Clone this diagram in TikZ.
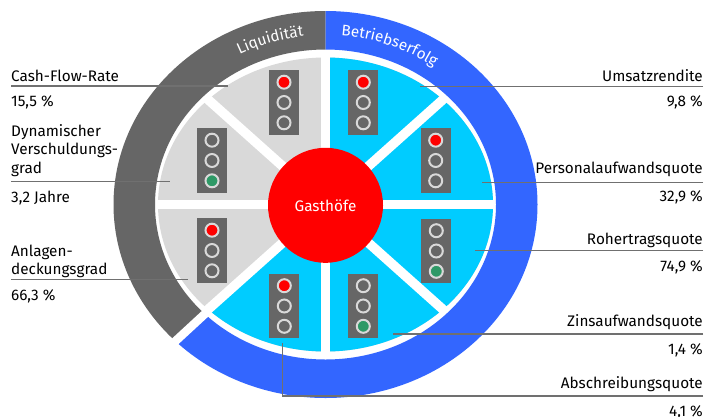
\documentclass[tikz,border=0pt]{standalone}
\usepackage{fontspec}
\setmainfont{Fira Sans}
\usetikzlibrary{positioning,decorations.text}
\definecolor{ringgray}{HTML}{666666}
\definecolor{ringblue}{HTML}{3366FF}
\definecolor{sectgray}{HTML}{D9D9D9}
\definecolor{sectcyan}{HTML}{00CCFF}
\definecolor{lampred}{HTML}{FF0000}
\definecolor{lampgreen}{HTML}{2E9966}
\definecolor{lampring}{HTML}{D9D9D9}
\definecolor{leadgray}{HTML}{707070}
\newcommand{\lblfont}{\fontsize{15.3}{18.6}\selectfont}
\tikzset{
lampbox/.style = {fill=ringgray, rectangle, minimum width=30pt, minimum height=64.5pt, inner sep=0pt},
lamp/.style = {draw=lampring, circle, line width=2pt, minimum size=13pt, inner sep=0pt},
hub/.style = {fill=red, circle, minimum size=115pt, inner sep=0pt, text=white, font=\lblfont},
divider/.style = {draw=white, line width=9.5pt},
leader/.style = {draw=leadgray, line width=1.3pt},
label/.style = {inner sep=0pt, align=left, font=\lblfont},
value/.style = {inner sep=0pt, font=\lblfont},
ringtext/.style = {decorate, decoration={text along path, text align=center, text color=white, text={|\lblfont|#1}}}
}

\begin{document}
\begin{tikzpicture}[x=1pt, y=1pt]
		\useasboundingbox (0,0) rectangle (706,-416);
		\fill[white] (0,0) rectangle (706,-416);
		\coordinate (c) at (325.5,-204.5);

		% outer ring and pie
		\begin{scope}[shift={(c)}]
			\fill[ringgray] (90:212 and 193.5) arc[start angle=90, end angle=225, x radius=212, y radius=193.5]
				-- (225:170.5 and 155) arc[start angle=225, end angle=90, x radius=170.5, y radius=155] -- cycle;
			\fill[ringblue] (90:212 and 193.5) arc[start angle=90, end angle=-135, x radius=212, y radius=193.5]
				-- (-135:170.5 and 155) arc[start angle=-135, end angle=90, x radius=170.5, y radius=155] -- cycle;
			\draw[draw=white, line width=8.5pt] (225:160 and 145) -- (225:225 and 205);

			\fill[sectgray] (0,0) ellipse[x radius=167.5, y radius=147];
			\fill[sectcyan] (0,0) -- (90:167.5 and 147) arc[start angle=90, end angle=-135, x radius=167.5, y radius=147] -- cycle;
			\foreach \a in {0,45,...,315}
				\draw[divider] (0,0) -- (\a:169 and 151);

			\path[ringtext=Liquidität] (137.4:186 and 169.5) arc[start angle=137.4, end angle=77.4, x radius=186, y radius=169.5];
			\path[ringtext=Betriebserfolg] (99.5:186 and 169.5) arc[start angle=99.5, end angle=39.5, x radius=186, y radius=169.5];
		\end{scope}

		\node [hub] (hub) at (325.5,-205.3) {Gasthöfe};

		% traffic lights
		\foreach \n/\x/\y/\ca/\cc in {cfr/284/102.5/lampred/ringgray, dvg/212/160.5/ringgray/lampgreen,
			adg/212/250.5/lampred/ringgray, asq/284.3/306/lampred/ringgray, zaq/363.3/306/ringgray/lampgreen,
			rtq/436.3/251/ringgray/lampgreen, paq/435.7/160.5/lampred/ringgray, usr/363.3/102.5/lampred/ringgray} {
			\node [lampbox] (tl-\n) at (\x,-\y) {};
			\node [lamp, fill=\ca] (tl-\n-1) at ([yshift=20.3pt]tl-\n.center) {};
			\node [lamp, fill=ringgray] (tl-\n-2) at (tl-\n.center) {};
			\node [lamp, fill=\cc] (tl-\n-3) at ([yshift=-20.3pt]tl-\n.center) {};
		}

		% left labels
		\node [label, anchor=base west] (cfr) at (11,-81) {Cash-Flow-Rate};
		\node [value, anchor=base west] (cfr-val) at (11,-106.5) {15,5 \%};
		\node [label, anchor=base west] (dvg) at (11,-173.3) {Dynamischer\\Verschuldungs-\\grad};
		\node [value, anchor=base west] (dvg-val) at (11,-202.3) {3,2 Jahre};
		\node [label, anchor=base west] (adg) at (11,-274.7) {Anlagen-\\deckungsgrad};
		\node [value, anchor=base west] (adg-val) at (11,-300.7) {66,3 \%};

		% right labels
		\node [label, anchor=base east] (usr) at (703,-81) {Umsatzrendite};
		\node [value, anchor=base east] (usr-val) at (703,-106.7) {9,8 \%};
		\node [label, anchor=base east] (paq) at (703,-173.3) {Personalaufwandsquote};
		\node [value, anchor=base east] (paq-val) at (703,-201.7) {32,9 \%};
		\node [label, anchor=base east] (rtq) at (703,-244.7) {Rohertragsquote};
		\node [value, anchor=base east] (rtq-val) at (703,-271.3) {74,9 \%};
		\node [label, anchor=base east] (zaq) at (703,-326.3) {Zinsaufwandsquote};
		\node [value, anchor=base east] (zaq-val) at (703,-354.7) {1,4 \%};
		\node [label, anchor=base east] (asq) at (703,-388) {Abschreibungsquote};
		\node [value, anchor=base east] (asq-val) at (703,-416.5) {4,1 \%};

		% leader lines
		\coordinate (cfr-a) at (11,-86);      \coordinate (cfr-b) at (228.3,-86);
		\coordinate (dvg-a) at (11,-181.7);   \coordinate (dvg-b) at (169.5,-181.7);
		\coordinate (adg-a) at (11,-279.7);   \coordinate (adg-b) at (188,-279.7);
		\coordinate (usr-a) at (703,-86.7);   \coordinate (usr-b) at (419.7,-86.7);
		\coordinate (paq-a) at (703,-182.3);  \coordinate (paq-b) at (482.3,-182.3);
		\coordinate (rtq-a) at (703,-250.7);  \coordinate (rtq-b) at (474.7,-250.7);
		\coordinate (zaq-a) at (703,-334);    \coordinate (zaq-b) at (393,-334);
		\coordinate (asq-a) at (703,-396);    \coordinate (asq-b) at (282.3,-343);

		\foreach \n in {cfr,dvg,adg,usr,paq,rtq,zaq}
			\draw [leader] (\n-a) -- (\n-b);
		\draw [leader] (asq-a) -| (asq-b);
\end{tikzpicture}
\end{document}
